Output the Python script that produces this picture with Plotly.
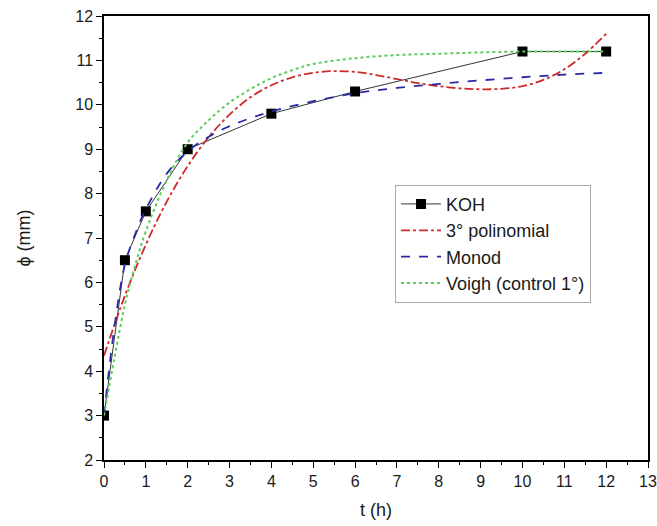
import plotly.graph_objects as go

# KOH measured data
t_koh = [0, 0.5, 1, 2, 4, 6, 10, 12]
phi_koh = [3.0, 6.5, 7.6, 9.0, 9.8, 10.3, 11.2, 11.2]

# 3rd degree polynomial fit
t_fit = [0, 0.5, 1, 1.5, 2, 2.5, 3, 3.5, 4, 4.5, 5, 5.5, 6, 6.5, 7, 7.5, 8, 8.5, 9, 9.5, 10, 10.5, 11, 11.5, 12]
phi_poly = [4.35, 5.70, 6.85, 7.82, 8.62, 9.27, 9.78, 10.17, 10.44, 10.62, 10.72, 10.76, 10.74, 10.67, 10.58,
            10.49, 10.42, 10.37, 10.35, 10.36, 10.42, 10.56, 10.80, 11.15, 11.60]

# Monod fit
t_monod = [0, 0.25, 0.5, 0.75, 1, 1.5, 2, 2.5, 3, 3.5, 4, 5, 6, 7, 8, 9, 10, 11, 12]
phi_monod = [3.0, 5.0, 6.4, 7.1, 7.65, 8.45, 8.95, 9.28, 9.52, 9.7, 9.85, 10.08, 10.26, 10.38, 10.47, 10.55,
             10.62, 10.68, 10.72]

# Voigh (control 1°)
t_voigh = [0, 0.25, 0.5, 0.75, 1, 1.5, 2, 2.5, 3, 3.5, 4, 4.5, 5, 6, 7, 8, 9, 10, 11, 12]
phi_voigh = [3.0, 4.3, 5.5, 6.4, 7.15, 8.3, 9.15, 9.65, 10.05, 10.35, 10.6, 10.78, 10.92, 11.05, 11.12, 11.15,
             11.18, 11.2, 11.2, 11.2]

FONT = "Liberation Sans, Arial, sans-serif"
TXT = "#1a1a1a"

fig = go.Figure()
fig.add_trace(go.Scatter(x=t_koh, y=phi_koh, name="KOH", mode="lines+markers",
                         line=dict(color="black", width=0.8),
                         marker=dict(symbol="square", size=10, color="black")))
fig.add_trace(go.Scatter(x=t_fit, y=phi_poly, name="3° polinomial", mode="lines",
                         line=dict(color="#cc2a2a", width=1.8, dash="dashdot", shape="spline")))
fig.add_trace(go.Scatter(x=t_monod, y=phi_monod, name="Monod", mode="lines",
                         line=dict(color="#2a2aa8", width=1.8, dash="dash", shape="spline")))
fig.add_trace(go.Scatter(x=t_voigh, y=phi_voigh, name="Voigh (control 1°)", mode="lines",
                         line=dict(color="#5ccc5c", width=2, dash="dot", shape="spline")))

axis_common = dict(showline=True, linecolor="black", linewidth=1.5, mirror=True,
                   ticks="outside", ticklen=6, tickwidth=1.2, tickcolor="black",
                   showgrid=False, zeroline=False, automargin=False,
                   tickfont=dict(family=FONT, size=16, color=TXT),
                   minor=dict(ticks="outside", ticklen=3, tickwidth=1, tickcolor="black", dtick=0.5))

fig.update_xaxes(range=[0, 13], dtick=1, tick0=0,
                 title=dict(text="t (h)", font=dict(family=FONT, size=18, color=TXT), standoff=14),
                 **axis_common)
fig.update_yaxes(range=[2, 12], dtick=1, tick0=2,
                 title=dict(text="ϕ (mm)", font=dict(family=FONT, size=18, color=TXT), standoff=40),
                 **axis_common)

fig.update_layout(
    width=657, height=526,
    margin=dict(l=104, r=9, t=16, b=66),
    plot_bgcolor="white", paper_bgcolor="white",
    legend=dict(x=0.535, y=0.62, xanchor="left", yanchor="top",
                bgcolor="white", bordercolor="#aaaaaa", borderwidth=1,
                font=dict(family=FONT, size=18, color=TXT),
                tracegroupgap=0, itemwidth=40),
)

fig.write_html("out.html")
